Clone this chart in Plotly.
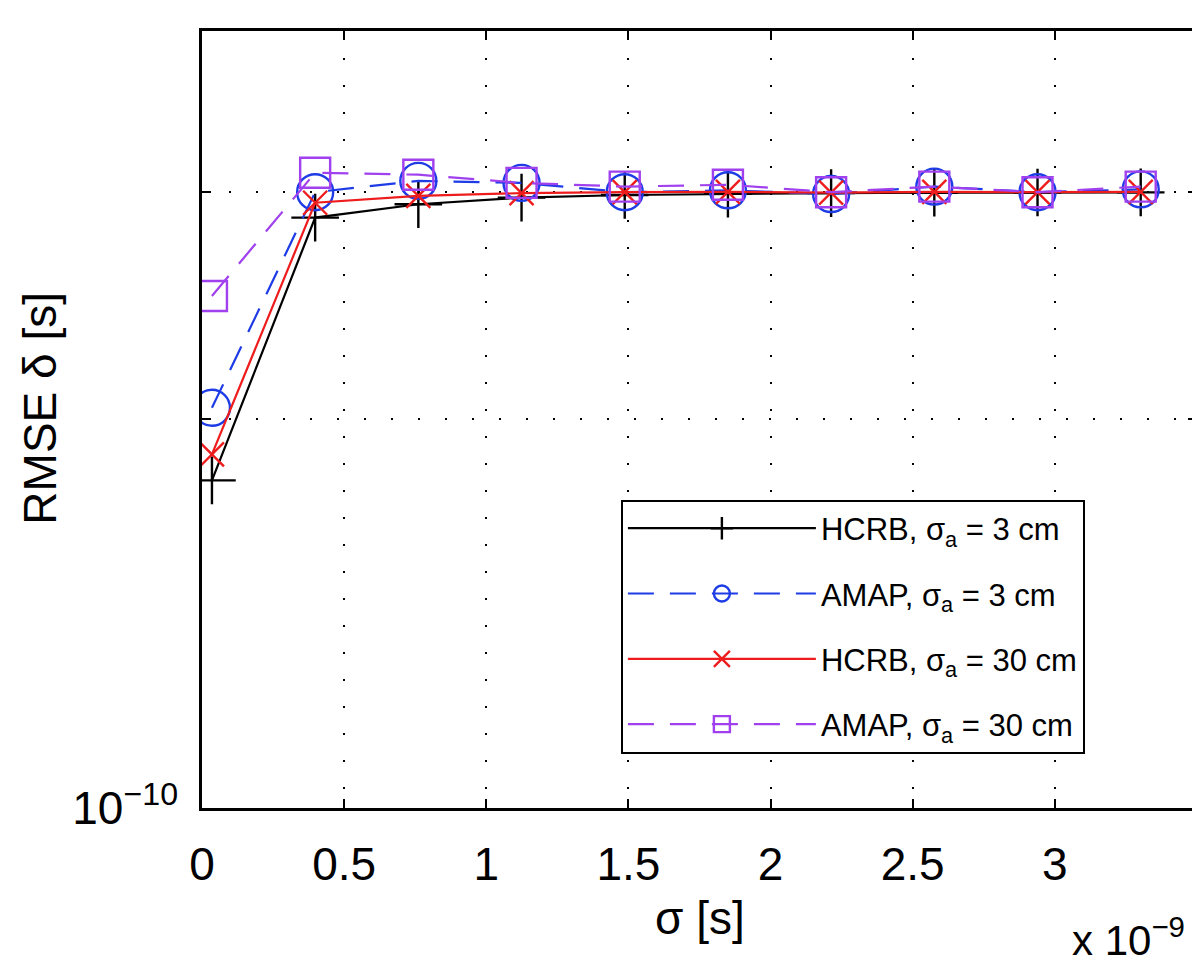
import plotly.graph_objects as go

# sigma values (s)
sigma = [0.035e-9, 0.398e-9, 0.761e-9, 1.124e-9, 1.487e-9, 1.850e-9, 2.213e-9, 2.576e-9, 2.939e-9, 3.302e-9]

hcrb_3 = [1.794e-10, 2.867e-10, 2.936e-10, 2.971e-10, 2.985e-10, 2.992e-10, 2.995e-10, 2.997e-10, 2.998e-10, 2.999e-10]
amap_3 = [2.042e-10, 3.000e-10, 3.061e-10, 3.050e-10, 3.000e-10, 3.010e-10, 2.990e-10, 3.030e-10, 3.000e-10, 3.015e-10]
hcrb_30 = [1.879e-10, 2.944e-10, 2.980e-10, 2.995e-10, 3.000e-10, 3.002e-10, 2.998e-10, 3.002e-10, 3.000e-10, 3.002e-10]
amap_30 = [2.493e-10, 3.106e-10, 3.095e-10, 3.050e-10, 3.030e-10, 3.040e-10, 3.000e-10, 3.030e-10, 3.000e-10, 3.030e-10]

names = ["HCRB, σ<sub>a</sub> = 3 cm", "AMAP, σ<sub>a</sub> = 3 cm",
         "HCRB, σ<sub>a</sub> = 30 cm", "AMAP, σ<sub>a</sub> = 30 cm"]

x_tickvals = [0, 0.5e-9, 1e-9, 1.5e-9, 2e-9, 2.5e-9, 3e-9]
x_ticktext = ["0", "0.5", "1", "1.5", "2", "2.5", "3"]
y_tickvals = [1e-10]
y_ticktext = ["10<sup>−10</sup>"]
y_minorvals = [2e-10, 3e-10, 4e-10]

FONT = "Liberation Sans, Arial, Helvetica, sans-serif"
BLUE = "#1E3CE6"
RED = "#EE1C1C"
PURPLE = "#A040EE"

fig = go.Figure()
styles = [
    (hcrb_3, "black", "solid", "cross-thin-open", 34),
    (amap_3, BLUE, "26px,16px", "circle-open", 36),
    (hcrb_30, RED, "solid", "x-thin-open", 24),
    (amap_30, PURPLE, "26px,16px", "square-open", 30),
]
for i, (ys, col, dash, sym, sz) in enumerate(styles):
    fig.add_trace(go.Scatter(
        x=sigma, y=ys, mode="lines+markers", name=names[i],
        legendgroup=str(i),
        line=dict(color=col, width=2.2, dash=dash),
        marker=dict(symbol=sym, size=sz, color=col, line=dict(color=col, width=2.4)),
    ))

grid_style = dict(gridcolor="black", gridwidth=2, griddash="2px,25px")

fig.update_layout(
    width=1200, height=965,
    margin=dict(l=194, r=8, t=23, b=165),
    paper_bgcolor="white", plot_bgcolor="white",
    font=dict(family=FONT, size=46, color="black"),
    showlegend=True,
    legend=dict(
        x=0.421, y=0.397, xanchor="left", yanchor="top",
        bordercolor="black", borderwidth=2, bgcolor="white",
        font=dict(family=FONT, size=31, color="black"),
        itemwidth=188, tracegroupgap=22,
        traceorder="grouped",
    ),
    xaxis=dict(
        type="linear", range=[0, 3.5e-9],
        tickvals=x_tickvals, ticktext=x_ticktext,
        ticks="inside", ticklen=9, tickwidth=2, tickcolor="black",
        showline=True, linecolor="black", linewidth=2.5, mirror="ticks",
        showgrid=True, zeroline=False, ticklabelstandoff=14,
        tickfont=dict(size=46), **grid_style,
    ),
    yaxis=dict(
        type="log", range=[-10, -9.398],
        tickvals=y_tickvals, ticktext=y_ticktext,
        ticks="inside", ticklen=9, tickwidth=2, tickcolor="black",
        showline=True, linecolor="black", linewidth=2.5, mirror="ticks",
        showgrid=True, zeroline=False, ticklabelstandoff=12,
        tickfont=dict(size=46), **grid_style,
        minor=dict(tickvals=y_minorvals, ticks="inside", ticklen=9, tickwidth=2,
                   tickcolor="black", showgrid=True, **grid_style),
    ),
    annotations=[
        dict(text="σ [s]", xref="paper", yref="paper", x=0.5, y=-0.1416,
             xanchor="center", yanchor="middle", showarrow=False,
             font=dict(size=46)),
        dict(text="RMSE δ [s]", xref="paper", yref="paper", x=-0.163, y=0.515,
             xanchor="center", yanchor="middle", showarrow=False, textangle=-90,
             font=dict(size=46)),
        dict(text="x 10<sup>−9</sup>", xref="paper", yref="paper", x=0.99, y=-0.166,
             xanchor="right", yanchor="middle", showarrow=False,
             font=dict(size=42)),
    ],
)

fig.write_html("out.html")
